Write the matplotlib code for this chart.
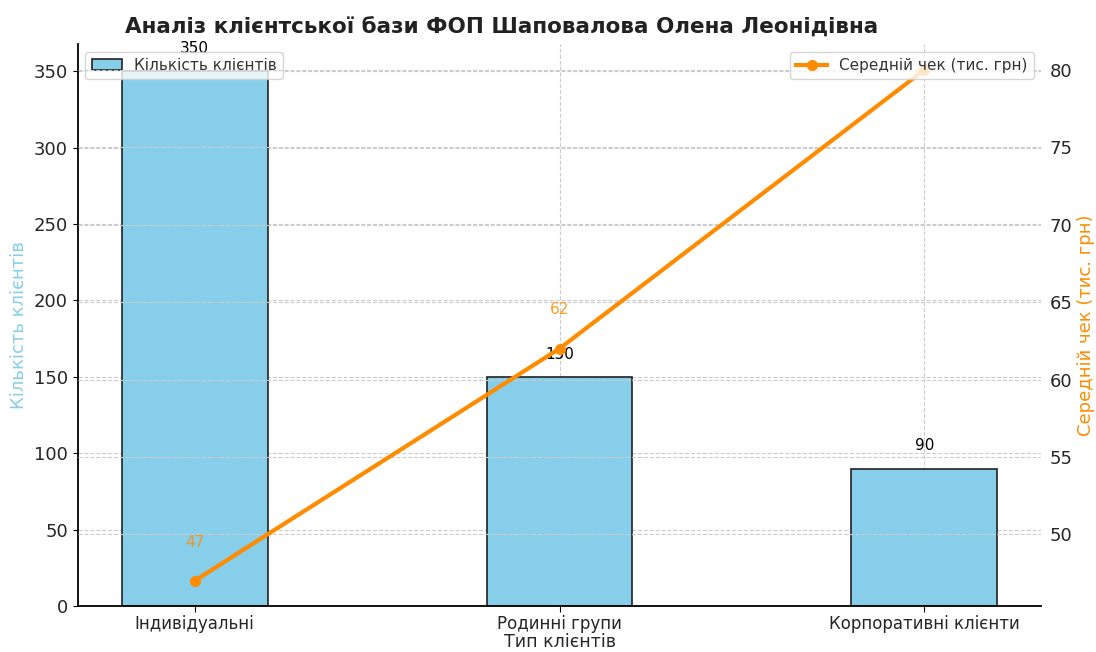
import numpy as np
import matplotlib
matplotlib.use('Agg')
import matplotlib.pyplot as plt

plt.rcParams['font.family'] = ['DejaVu Sans']

categories = ['Індивідуальні', 'Родинні групи', 'Корпоративні клієнти']
clients = [350, 150, 90]
avg_check = [47, 62, 80]

bar_color = 'skyblue'
line_color = 'darkorange'
text_color = '#262626'

fig = plt.figure(figsize=(10.96, 6.52), dpi=100)
ax1 = fig.add_axes([0.071, 0.07, 0.879, 0.862])
x = np.arange(len(categories))

ax1.bar(x, clients, width=0.4, color=bar_color, edgecolor='#222222',
        linewidth=1.2, label='Кількість клієнтів', zorder=2)
for xi, v in zip(x, clients):
    ax1.text(xi, v + 10, str(v), ha='center', va='bottom', fontsize=11, color='black')

ax1.set_xticks(x)
ax1.set_xticklabels(categories, fontsize=12, color=text_color)
ax1.set_ylabel('Кількість клієнтів', color=bar_color, fontsize=13)
ax1.set_xlabel('Тип клієнтів', fontsize=12.5, labelpad=0, color=text_color)
ax1.tick_params(axis='x', pad=2, length=4)
ax1.tick_params(axis='y', labelsize=13, labelcolor=text_color)
ax1.grid(True, linestyle='--', color='#cccccc', linewidth=0.8, zorder=0)
ax1.set_axisbelow(True)

ax2 = ax1.twinx()
ax2.plot(x, avg_check, color=line_color, marker='o', linewidth=3,
         markersize=7, label='Середній чек (тис. грн)', zorder=3)
for xi, v in zip(x, avg_check):
    ax2.text(xi, v + 2.5, str(v), ha='center', va='center', fontsize=11,
             color=line_color, alpha=0.85, clip_on=True)
ax2.set_ylabel('Середній чек (тис. грн)', color=line_color, fontsize=13, labelpad=3)
ax2.tick_params(axis='y', labelsize=13, length=0, pad=6, labelcolor=text_color)
ax2.grid(True, axis='y', linestyle='--', color='#cccccc', linewidth=0.8)

for a in (ax1, ax2):
    a.spines['top'].set_visible(False)
    a.spines['right'].set_visible(False)
ax2.spines['left'].set_visible(False)
ax2.spines['bottom'].set_visible(False)
ax1.spines['left'].set_linewidth(1.3)
ax1.spines['bottom'].set_linewidth(1.3)

leg1 = ax1.legend(loc='upper left', fontsize=11, borderaxespad=0.5)
leg2 = ax2.legend(loc='upper right', fontsize=11, borderaxespad=0.5)
for leg in (leg1, leg2):
    for t in leg.get_texts():
        t.set_color('#333333')

ax1.set_title('Аналіз клієнтської бази ФОП Шаповалова Олена Леонідівна',
              fontsize=15.5, fontweight='bold', color='#222222', x=0.44, pad=8)

fig.savefig('out.png', dpi=100)
